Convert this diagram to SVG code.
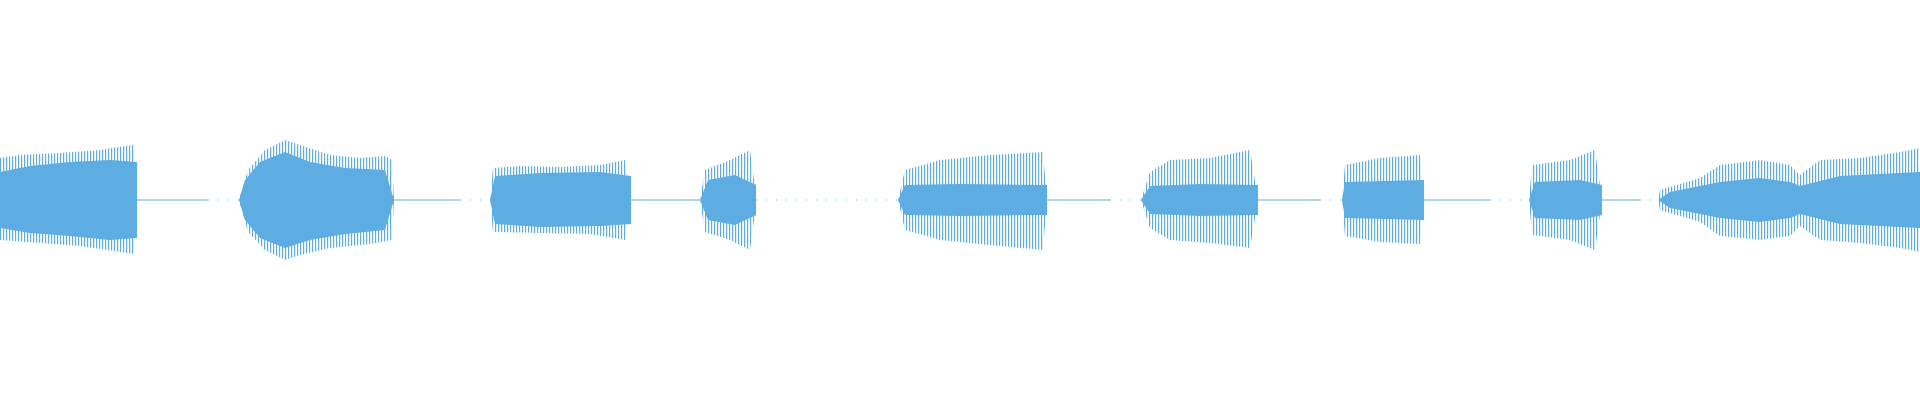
<svg xmlns="http://www.w3.org/2000/svg" width="1920" height="400" viewBox="0 0 1920 400">
<defs>
<pattern id="vl" width="3" height="400" patternUnits="userSpaceOnUse"><rect x="0" y="0" width="1.2" height="400" fill="#5dade2"/></pattern>
<style>.o{fill:url(#vl)}.c{fill:#5dade2}.t{stroke:#5dade2;stroke-width:1.2}.d{stroke:#5dade2;stroke-width:1;stroke-dasharray:1 9}</style>
</defs>
<rect width="1920" height="400" fill="#fff"/>
<g id="wave">
<path class="o" d="M0,158 L20,155 L60,153 L100,150 L125,146 L133,145 L137,190 L137,210 L133,254 L120,252 L80,246 L40,243 L0,240 Z"/>
<path class="c" d="M0,172 L30,166 L70,162 L110,160 L137,162 L137,238 L110,240 L70,236 L30,233 L0,228 Z"/>
<path class="o" d="M239,200 L248,170 L265,150 L285,140 L300,145 L330,155 L360,158 L385,156 L392,160 L394,200 L392,240 L370,244 L330,248 L300,255 L285,260 L265,250 L248,232 Z"/>
<path class="c" d="M239,200 L245,180 L260,162 L285,152 L310,162 L345,168 L385,170 L394,200 L385,230 L345,234 L310,240 L285,248 L260,238 L245,220 Z"/>
<path class="o" d="M490,200 L493,168 L520,166 L560,167 L600,165 L625,160 L631,200 L625,240 L590,234 L540,233 L493,232 Z"/>
<path class="c" d="M490,200 L495,176 L540,173 L600,172 L631,176 L631,224 L600,226 L540,227 L495,224 Z"/>
<path class="o" d="M700,200 L705,170 L730,160 L750,150 L756,195 L756,205 L750,250 L730,240 L705,232 Z"/>
<path class="c" d="M700,200 L708,180 L735,175 L756,185 L756,215 L735,225 L708,220 Z"/>
<path class="o" d="M898,200 L905,170 L940,160 L990,155 L1043,152 L1047,200 L1043,250 L990,245 L940,240 L905,230 Z"/>
<path class="c" d="M898,200 L905,185 L960,184 L1047,185 L1047,215 L960,216 L905,215 Z"/>
<path class="o" d="M1141,200 L1150,172 L1170,160 L1210,158 L1250,150 L1258,200 L1250,248 L1210,243 L1170,240 L1150,228 Z"/>
<path class="c" d="M1141,200 L1150,186 L1200,184 L1258,185 L1258,215 L1200,216 L1150,214 Z"/>
<path class="o" d="M1342,200 L1345,165 L1380,158 L1420,155 L1424,200 L1420,244 L1380,242 L1345,236 Z"/>
<path class="c" d="M1342,200 L1345,182 L1424,180 L1424,220 L1345,218 Z"/>
<path class="o" d="M1529,200 L1532,165 L1570,160 L1595,150 L1602,200 L1595,250 L1570,240 L1532,235 Z"/>
<path class="c" d="M1529,200 L1535,182 L1580,180 L1602,185 L1602,215 L1580,220 L1535,218 Z"/>
<path class="o" d="M1658,200 L1660,190 L1700,178 L1720,165 L1760,160 L1790,165 L1800,175 L1820,160 L1860,158 L1900,152 L1920,148 L1920,252 L1900,248 L1860,243 L1820,240 L1800,226 L1790,236 L1760,240 L1720,236 L1700,222 L1660,210 Z"/>
<path class="c" d="M1658,200 L1670,192 L1720,182 L1760,178 L1790,182 L1800,186 L1840,176 L1920,172 L1920,228 L1840,224 L1800,214 L1790,218 L1760,222 L1720,218 L1670,208 Z"/>
<line class="t" x1="137" y1="200" x2="208" y2="200"/>
<line class="t" x1="394" y1="200" x2="460" y2="200"/>
<line class="t" x1="631" y1="200" x2="700" y2="200"/>
<line class="t" x1="1047" y1="200" x2="1110" y2="200"/>
<line class="t" x1="1258" y1="200" x2="1320" y2="200"/>
<line class="t" x1="1424" y1="200" x2="1490" y2="200"/>
<line class="t" x1="1602" y1="200" x2="1640" y2="200"/>
<line class="d" x1="208" y1="200" x2="239" y2="200"/>
<line class="d" x1="460" y1="200" x2="490" y2="200"/>
<line class="d" x1="756" y1="200" x2="898" y2="200"/>
<line class="d" x1="1110" y1="200" x2="1141" y2="200"/>
<line class="d" x1="1320" y1="200" x2="1342" y2="200"/>
<line class="d" x1="1490" y1="200" x2="1529" y2="200"/>
<line class="d" x1="1640" y1="200" x2="1658" y2="200"/>
</g>
</svg>
